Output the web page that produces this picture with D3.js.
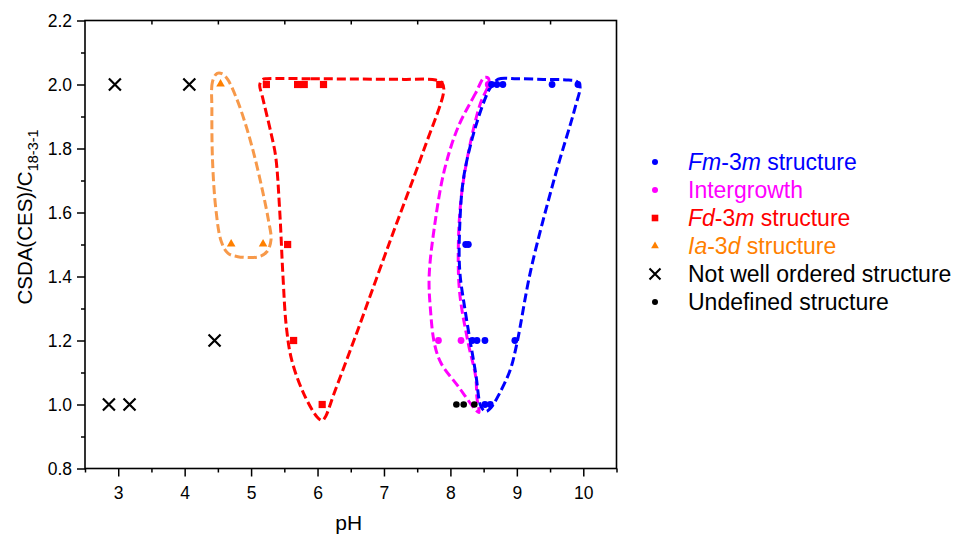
<!DOCTYPE html>
<html>
<head>
<meta charset="utf-8">
<script src="https://cdn.jsdelivr.net/npm/d3@7/dist/d3.min.js"></script>
<style>
  html, body { margin: 0; padding: 0; background: #fff; }
  svg { display: block; font-family: "Liberation Sans", Arial, sans-serif; }
</style>
</head>
<body>
<svg id="chart" width="955" height="537"></svg>
<script>
// ---- Data (pH, CSDA/C18-3-1 ratio) ----
const fm3m = [[8.62,2.0],[8.70,2.0],[8.79,2.0],[9.53,2.0],[9.92,2.0],
              [8.23,1.5],[8.27,1.5],
              [8.33,1.2],[8.40,1.2],[8.52,1.2],[8.97,1.2],
              [8.52,1.0],[8.60,1.0]];
const intergrowth = [[8.57,2.0],[7.82,1.2],[8.16,1.2]];
const fd3m = [[5.23,2.0],[5.70,2.0],[5.80,2.0],[6.09,2.0],[7.84,2.0],
              [5.55,1.5],[5.64,1.2],[6.07,1.0]];
const ia3d = [[4.54,2.0],[4.70,1.5],[5.18,1.5]];
const notOrdered = [[2.95,2.0],[4.07,2.0],[4.45,1.2],[2.86,1.0],[3.17,1.0]];
const undefinedStruct = [[8.09,1.0],[8.20,1.0],[8.36,1.0]];

// Hand-drawn envelope outlines (data coordinates)
const envOrange = [[4.49,2.035],[4.42,2.01],[4.41,1.92],[4.42,1.76],[4.47,1.61],[4.55,1.51],
  [4.65,1.473],[4.80,1.462],[5.12,1.462],[5.24,1.478],[5.30,1.515],[5.26,1.577],[5.17,1.67],
  [5.04,1.785],[4.91,1.88],[4.78,1.957],[4.65,2.015],[4.57,2.033]];
const envRed = [[5.24,2.018],[5.9,2.018],[6.6,2.017],[7.3,2.016],[7.78,2.014],[7.88,2.003],[7.90,1.98],[7.60,1.796],
  [7.08,1.504],[6.57,1.2125],[6.25,1.035],[6.12,0.962],[6.07,0.95],[5.99,0.962],[5.79,1.035],
  [5.61,1.14],[5.53,1.244],[5.48,1.40],[5.43,1.608],[5.37,1.775],[5.30,1.848],[5.17,1.962],
  [5.13,1.999],[5.17,2.015]];
const envMagenta = [[8.51,2.022],[8.38,1.973],[8.12,1.869],[7.91,1.733],[7.76,1.556],[7.68,1.40],
  [7.70,1.296],[7.76,1.19],[7.86,1.129],[8.12,1.056],[8.38,0.983],[8.43,0.975],[8.40,1.02],
  [8.38,1.0875],[8.27,1.19],[8.14,1.348],[8.12,1.504],[8.17,1.66],[8.30,1.817],[8.45,1.94],
  [8.58,2.004],[8.57,2.02]];
const envBlue = [[8.64,2.0],[8.72,2.017],[9.0,2.018],[9.4,2.016],[9.78,2.014],[9.90,2.01],[9.95,1.995],[9.88,1.93],[9.57,1.71],
  [9.21,1.42],[9.0,1.19],[8.90,1.108],[8.74,1.035],[8.61,0.99],[8.53,0.978],[8.46,0.994],
  [8.38,1.098],[8.22,1.296],[8.14,1.42],[8.14,1.556],[8.20,1.71],[8.38,1.869],[8.58,1.983]];

const xMajorTicks = [3,4,5,6,7,8,9,10];
const xMinorTicks = [2.5,3.5,4.5,5.5,6.5,7.5,8.5,9.5,10.5];
const yMajorTicks = [0.8,1.0,1.2,1.4,1.6,1.8,2.0,2.2];
const yMinorTicks = [0.9,1.1,1.3,1.5,1.7,1.9,2.1];

// ---- Layout ----
const svg = d3.select("#chart");
const L = 85, R = 616.5, T = 20.5, B = 468.5;
const x = d3.scaleLinear().domain([2.5, 10.5]).range([L, R]);
const y = d3.scaleLinear().domain([0.8, 2.2]).range([B, T]);

const BLUE = "#0000ff", MAG = "#ff00ff", RED = "#ff0000", ORG = "#ff8000", ORGL = "#f7994a";

// Envelopes
const line = d3.line().x(d => x(d[0])).y(d => y(d[1])).curve(d3.curveCatmullRomClosed.alpha(0.5));
const envs = [[envOrange, ORGL], [envRed, RED], [envMagenta, MAG], [envBlue, BLUE]];
envs.forEach(([pts, col]) => {
  svg.append("path").attr("d", line(pts)).attr("fill", "none").attr("stroke", col)
    .attr("stroke-width", 3).attr("stroke-dasharray", "9,4");
});

// Markers
function dots(data, col, r) {
  svg.append("g").selectAll("circle").data(data).join("circle")
    .attr("cx", d => x(d[0])).attr("cy", d => y(d[1])).attr("r", r).attr("fill", col);
}
dots(undefinedStruct, "#000", 3.3);
svg.append("g").selectAll("rect").data(fd3m).join("rect")
  .attr("x", d => x(d[0]) - 3.6).attr("y", d => y(d[1]) - 3.6).attr("width", 7.2).attr("height", 7.2)
  .attr("fill", RED);
const tri = d3.symbol().type(d3.symbolTriangle).size(32);
svg.append("g").selectAll("path").data(ia3d).join("path")
  .attr("d", tri).attr("transform", d => `translate(${x(d[0])},${y(d[1]) - 0.5})`).attr("fill", ORG);
svg.append("g").selectAll("path").data(notOrdered).join("path")
  .attr("d", d => { const cx = x(d[0]), cy = y(d[1]), s = 6;
    return `M${cx-s},${cy-s}L${cx+s},${cy+s}M${cx-s},${cy+s}L${cx+s},${cy-s}`; })
  .attr("stroke", "#000").attr("stroke-width", 2.2).attr("fill", "none");
dots(intergrowth, MAG, 3.4);
dots(fm3m, BLUE, 3.4);

// Frame
svg.append("rect").attr("x", L).attr("y", T).attr("width", R - L).attr("height", B - T)
  .attr("fill", "none").attr("stroke", "#000").attr("stroke-width", 1.6);

// Axes
const xAxis = svg.append("g").attr("transform", `translate(0,${B})`)
  .call(d3.axisBottom(x).tickValues(xMajorTicks).tickSize(8).tickPadding(10).tickFormat(d3.format("d")));
const xMinor = svg.append("g").attr("transform", `translate(0,${B})`)
  .call(d3.axisBottom(x).tickValues(xMinorTicks).tickSize(4).tickFormat(""));
const xTop = svg.append("g").attr("transform", `translate(0,${T})`)
  .call(d3.axisBottom(x).tickValues(xMinorTicks.slice(1, -1)).tickSize(4).tickFormat(""));
const yAxis = svg.append("g").attr("transform", `translate(${L},0)`)
  .call(d3.axisLeft(y).tickValues(yMajorTicks).tickSize(8).tickPadding(5).tickFormat(d3.format(".1f")));
const yMinor = svg.append("g").attr("transform", `translate(${L},0)`)
  .call(d3.axisLeft(y).tickValues(yMinorTicks).tickSize(4).tickFormat(""));
[xAxis, xMinor, xTop, yAxis, yMinor].forEach(g => {
  g.select(".domain").remove();
  g.selectAll(".tick line").attr("stroke", "#000").attr("stroke-width", 1.5);
  g.selectAll("text").attr("fill", "#000").style("font-size", "17.5px")
    .style("font-family", "'Liberation Sans', Arial, sans-serif");
});

// Axis titles
svg.append("text").attr("x", (L + R) / 2 - 2).attr("y", 530).attr("text-anchor", "middle")
  .style("font-size", "21px").text("pH");
const yl = svg.append("text").attr("transform", `translate(32,217) rotate(-90)`)
  .attr("text-anchor", "middle").style("font-size", "20.5px");
yl.append("tspan").text("CSDA(CES)/C");
yl.append("tspan").attr("dy", 6).style("font-size", "14.5px").text("18-3-1");

// Legend
const legend = [
  {sym: "dot", col: BLUE, parts: [["Fm", 1], ["-3", 0], ["m", 1], [" structure", 0]]},
  {sym: "dot", col: MAG, parts: [["Intergrowth", 0]]},
  {sym: "sq", col: RED, parts: [["Fd", 1], ["-3", 0], ["m", 1], [" structure", 0]]},
  {sym: "tri", col: ORG, parts: [["Ia", 1], ["-3", 0], ["d", 1], [" structure", 0]]},
  {sym: "x", col: "#000", parts: [["Not well ordered structure", 0]]},
  {sym: "dot", col: "#000", parts: [["Undefined structure", 0]]}
];
legend.forEach((it, i) => {
  const cy = 162 + i * 28, cx = 655;
  if (it.sym === "dot") svg.append("circle").attr("cx", cx).attr("cy", cy).attr("r", 3).attr("fill", it.col);
  if (it.sym === "sq") svg.append("rect").attr("x", cx - 3.3).attr("y", cy - 3.3).attr("width", 6.6).attr("height", 6.6).attr("fill", it.col);
  if (it.sym === "tri") svg.append("path").attr("d", d3.symbol().type(d3.symbolTriangle).size(26)())
    .attr("transform", `translate(${cx},${cy})`).attr("fill", it.col);
  if (it.sym === "x") svg.append("path").attr("d", `M${cx-5.5},${cy-5.5}L${cx+5.5},${cy+5.5}M${cx-5.5},${cy+5.5}L${cx+5.5},${cy-5.5}`)
    .attr("stroke", it.col).attr("stroke-width", 2.1);
  const t = svg.append("text").attr("x", 688).attr("y", cy + 8).style("font-size", "23px").attr("fill", it.col);
  it.parts.forEach(([s, ital]) => t.append("tspan").style("font-style", ital ? "italic" : "normal").text(s));
});
</script>
</body>
</html>
